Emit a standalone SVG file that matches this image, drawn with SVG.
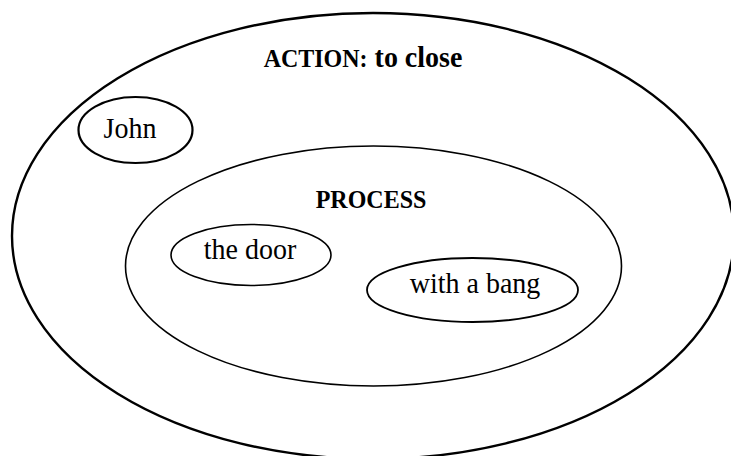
<svg xmlns="http://www.w3.org/2000/svg" width="731" height="456" viewBox="0 0 731 456">
<style>
  .shape { fill: none; stroke: #000; }
  .lbl { font-family: "Liberation Serif", "Times New Roman", serif; font-size: 28px; fill: #000; text-anchor: middle; }
  .bold { font-weight: bold; }
  .small { font-size: 24px; }
</style>
<rect x="0" y="0" width="731" height="456" fill="#fff"/>
<g id="action">
  <ellipse class="shape" cx="373" cy="236" rx="361" ry="223" stroke-width="2.4"/>
  <text class="lbl bold" transform="translate(363,67) scale(1,1.05)"><tspan class="small">ACTION:</tspan> to close</text>
</g>
<g id="john">
  <ellipse class="shape" cx="135.5" cy="130" rx="57" ry="33" stroke-width="2.2"/>
  <text class="lbl" transform="translate(130,138) scale(1,1.07)">John</text>
</g>
<g id="process">
  <ellipse class="shape" cx="373.5" cy="266" rx="248" ry="120" stroke-width="1.6"/>
  <text class="lbl bold small" transform="translate(371,208) scale(1,1.03)">PROCESS</text>
</g>
<g id="the-door">
  <ellipse class="shape" cx="251" cy="255" rx="80" ry="30.5" stroke-width="1.6"/>
  <text class="lbl" transform="translate(250,259) scale(1,1.07)">the door</text>
</g>
<g id="with-a-bang">
  <ellipse class="shape" cx="472.5" cy="290" rx="105.5" ry="32" stroke-width="1.8"/>
  <text class="lbl" transform="translate(475,293) scale(1,1.07)">with a bang</text>
</g>
<g id="connectors"></g>
</svg>
